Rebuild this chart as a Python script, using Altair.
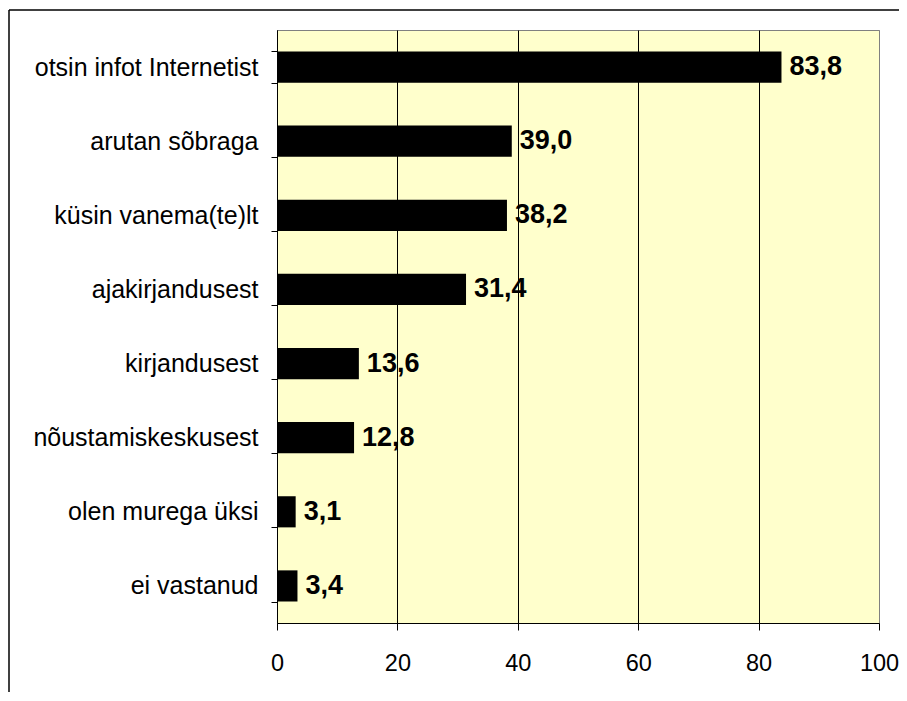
import altair as alt
import pandas as pd

categories = [
    "otsin infot Internetist",
    "arutan sõbraga",
    "küsin vanema(te)lt",
    "ajakirjandusest",
    "kirjandusest",
    "nõustamiskeskusest",
    "olen murega üksi",
    "ei vastanud",
]
values = [83.8, 39.0, 38.2, 31.4, 13.6, 12.8, 3.1, 3.4]
x_ticks = [0, 20, 40, 60, 80, 100]

df = pd.DataFrame({"cat": categories, "val": values})
FONT = "Liberation Sans"

y_enc = alt.Y(
    "cat:N",
    sort=categories,
    title=None,
    scale=alt.Scale(paddingInner=0.58, paddingOuter=0.29),
    axis=alt.Axis(
        tickBand="extent",
        labelFont=FONT,
        labelFontSize=25,
        labelColor="black",
        labelPadding=13,
        labelLimit=300,
        tickSize=6,
        tickColor="black",
        domainColor="black",
        grid=False,
    ),
)
x_enc = alt.X(
    "val:Q",
    title=None,
    scale=alt.Scale(domain=[0, 100], nice=False),
    axis=alt.Axis(
        values=x_ticks,
        labelFont=FONT,
        labelFontSize=23.5,
        labelColor="black",
        labelPadding=21,
        tickSize=7,
        tickColor="black",
        domainColor="black",
        grid=True,
        gridColor={"condition": {"test": "datum.value === 100", "value": "#808080"}, "value": "black"},
        gridOpacity=1,
        gridWidth=1,
        labelFlush=False,
    ),
)

bars = alt.Chart(df).mark_bar(color="black").encode(x=x_enc, y=y_enc)

text = (
    alt.Chart(df)
    .transform_calculate(lbl="replace(format(datum.val, '.1f'), '.', ',')")
    .mark_text(align="left", baseline="middle", dx=8, font=FONT, fontSize=27,
               fontWeight="bold", color="black")
    .encode(x=alt.X("val:Q"), y=alt.Y("cat:N", sort=categories), text="lbl:N")
)

frame_df = pd.DataFrame({"k": [0]})
frame_top = alt.Chart(frame_df).mark_rule(color="black", strokeWidth=1.5).encode(
    x=alt.value(-268), x2=alt.value(640), y=alt.value(-20)
)
frame_left = alt.Chart(frame_df).mark_rule(color="black", strokeWidth=1.5).encode(
    x=alt.value(-268), y=alt.value(-20), y2=alt.value(680)
)

chart = (
    alt.layer(bars, text, frame_top, frame_left)
    .properties(
        width=602,
        height=593,
        autosize=alt.AutoSizeParams(type="none"),
        padding={"left": 269, "top": 22, "right": 20, "bottom": 69},
        background="white",
    )
    .configure_view(fill="#FFFFCC", stroke="#808080", strokeWidth=1)
)

chart.save("out.html", embed_options={"renderer": "svg", "actions": False})
